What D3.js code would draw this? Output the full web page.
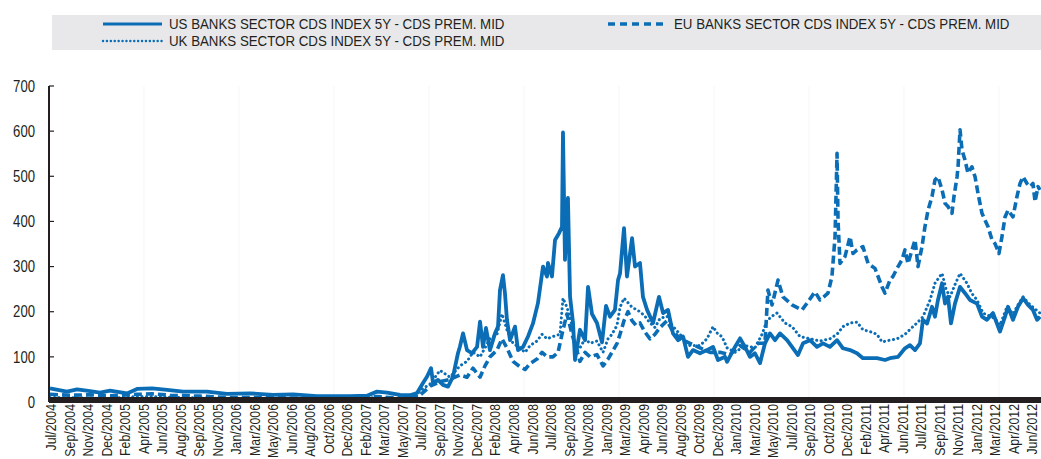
<!DOCTYPE html>
<html><head><meta charset="utf-8">
<script src="https://cdn.jsdelivr.net/npm/d3@7/dist/d3.min.js"></script>
<style>
body{margin:0;background:#fff;}
svg{display:block;}
text{font-family:"Liberation Sans",Arial,sans-serif;fill:#231f20;}
</style></head><body>
<svg id="c" width="1041" height="459"></svg>
<script>
const seriesNames = [
  "US BANKS SECTOR CDS INDEX 5Y - CDS PREM. MID",
  "EU BANKS SECTOR CDS INDEX 5Y - CDS PREM. MID",
  "UK BANKS SECTOR CDS INDEX 5Y - CDS PREM. MID"
];
const tickLabels = ["Jul/2004","Sep/2004","Nov/2004","Dec/2004","Feb/2005","Apr/2005","Jun/2005","Aug/2005","Sep/2005","Nov/2005","Jan/2006","Mar/2006","May/2006","Jun/2006","Aug/2006","Oct/2006","Dec/2006","Feb/2007","Mar/2007","May/2007","Jul/2007","Sep/2007","Nov/2007","Dec/2007","Feb/2008","Apr/2008","Jun/2008","Jul/2008","Sep/2008","Nov/2008","Jan/2009","Mar/2009","Apr/2009","Jun/2009","Aug/2009","Oct/2009","Dec/2009","Jan/2010","Mar/2010","May/2010","Jul/2010","Sep/2010","Oct/2010","Dec/2010","Feb/2011","Apr/2011","Jun/2011","Jul/2011","Sep/2011","Nov/2011","Jan/2012","Mar/2012","Apr/2012","Jun/2012"];
const yTicks = [0,100,200,300,400,500,600,700];
const gridYears = [2005.258,2006.024,2006.790,2007.556,2008.323,2009.089,2009.855,2010.621,2011.387,2012.153];

// [decimal year, basis points]
const usData = [[2004.500,30],[2004.637,23],[2004.718,28],[2004.823,24],[2004.903,21],[2004.984,25],[2005.121,19],[2005.202,29],[2005.323,30],[2005.444,27],[2005.573,23],[2005.766,23],[2005.927,18],[2006.113,19],[2006.298,16],[2006.460,17],[2006.653,13],[2006.919,13],[2007.056,14],[2007.137,23],[2007.218,21],[2007.323,16],[2007.403,15],[2007.460,20],[2007.508,42],[2007.540,56],[2007.573,75],[2007.589,42],[2007.629,49],[2007.669,38],[2007.710,34],[2007.750,56],[2007.790,108],[2007.806,123],[2007.831,152],[2007.863,115],[2007.903,108],[2007.944,122],[2007.968,178],[2007.992,122],[2008.016,164],[2008.048,115],[2008.089,152],[2008.113,167],[2008.129,248],[2008.153,281],[2008.169,241],[2008.185,182],[2008.210,137],[2008.250,167],[2008.274,115],[2008.315,122],[2008.355,145],[2008.395,174],[2008.435,219],[2008.476,300],[2008.508,278],[2008.516,308],[2008.548,278],[2008.573,359],[2008.605,374],[2008.629,388],[2008.637,597],[2008.653,315],[2008.677,452],[2008.694,233],[2008.718,175],[2008.734,93],[2008.774,160],[2008.815,137],[2008.839,255],[2008.871,195],[2008.911,175],[2008.952,132],[2008.984,213],[2009.016,189],[2009.056,204],[2009.081,270],[2009.097,285],[2009.129,385],[2009.153,278],[2009.194,363],[2009.218,300],[2009.258,308],[2009.282,233],[2009.315,204],[2009.363,175],[2009.411,233],[2009.444,197],[2009.484,204],[2009.524,152],[2009.565,137],[2009.605,145],[2009.645,100],[2009.685,115],[2009.742,108],[2009.798,115],[2009.847,122],[2009.887,93],[2009.944,100],[2009.960,89],[2010.024,122],[2010.065,141],[2010.105,122],[2010.145,100],[2010.185,108],[2010.226,86],[2010.266,130],[2010.306,152],[2010.347,137],[2010.387,152],[2010.444,137],[2010.484,122],[2010.532,104],[2010.573,130],[2010.629,137],[2010.685,122],[2010.734,130],[2010.790,122],[2010.847,137],[2010.895,119],[2010.952,115],[2011.008,108],[2011.056,97],[2011.113,97],[2011.169,97],[2011.234,93],[2011.274,97],[2011.339,100],[2011.395,119],[2011.435,126],[2011.476,115],[2011.516,130],[2011.540,182],[2011.573,174],[2011.613,211],[2011.637,189],[2011.661,226],[2011.694,263],[2011.718,218],[2011.742,233],[2011.766,174],[2011.798,218],[2011.839,255],[2011.879,241],[2011.919,226],[2011.976,218],[2012.016,189],[2012.056,182],[2012.105,197],[2012.161,156],[2012.202,189],[2012.226,211],[2012.266,182],[2012.306,211],[2012.347,230],[2012.387,215],[2012.427,204],[2012.460,182],[2012.484,189]];

const euData = [[2004.500,17],[2004.661,15],[2004.823,16],[2004.984,14],[2005.202,17],[2005.323,18],[2005.468,15],[2005.710,13],[2005.952,10],[2006.194,10],[2006.435,9],[2006.677,7],[2006.919,7],[2007.137,12],[2007.242,10],[2007.403,8],[2007.484,15],[2007.565,35],[2007.645,45],[2007.726,50],[2007.806,60],[2007.863,55],[2007.911,75],[2007.968,55],[2008.008,80],[2008.048,100],[2008.105,115],[2008.145,140],[2008.185,120],[2008.234,90],[2008.290,78],[2008.331,72],[2008.371,85],[2008.427,95],[2008.468,110],[2008.508,100],[2008.556,100],[2008.597,110],[2008.637,160],[2008.669,195],[2008.710,150],[2008.742,120],[2008.774,90],[2008.815,110],[2008.855,100],[2008.911,105],[2008.960,80],[2009.000,95],[2009.032,110],[2009.073,130],[2009.097,150],[2009.129,180],[2009.161,200],[2009.194,180],[2009.226,170],[2009.258,175],[2009.298,155],[2009.339,140],[2009.379,150],[2009.419,165],[2009.476,180],[2009.516,160],[2009.581,140],[2009.661,130],[2009.742,120],[2009.823,110],[2009.903,110],[2009.984,105],[2010.065,125],[2010.145,110],[2010.210,130],[2010.266,130],[2010.290,248],[2010.323,215],[2010.371,270],[2010.411,233],[2010.484,215],[2010.565,204],[2010.613,222],[2010.669,244],[2010.710,226],[2010.774,241],[2010.806,278],[2010.831,366],[2010.847,551],[2010.855,403],[2010.871,307],[2010.911,322],[2010.952,366],[2010.976,329],[2011.008,337],[2011.056,344],[2011.097,307],[2011.153,296],[2011.210,255],[2011.234,241],[2011.274,270],[2011.298,278],[2011.339,300],[2011.371,315],[2011.395,337],[2011.419,307],[2011.452,337],[2011.476,359],[2011.500,300],[2011.532,344],[2011.556,388],[2011.581,425],[2011.613,455],[2011.637,492],[2011.661,499],[2011.694,470],[2011.718,440],[2011.742,433],[2011.774,418],[2011.790,455],[2011.815,499],[2011.823,521],[2011.839,603],[2011.855,558],[2011.879,536],[2011.903,507],[2011.935,521],[2011.960,499],[2011.984,462],[2012.016,418],[2012.040,403],[2012.065,388],[2012.097,359],[2012.121,351],[2012.153,329],[2012.177,366],[2012.202,410],[2012.226,425],[2012.266,410],[2012.298,455],[2012.323,484],[2012.347,499],[2012.379,484],[2012.403,477],[2012.427,484],[2012.444,444],[2012.468,477],[2012.484,470]];

const ukData = [[2004.500,10],[2004.742,9],[2004.984,8],[2005.202,12],[2005.323,12],[2005.548,10],[2005.871,8],[2006.194,7],[2006.516,6],[2006.839,6],[2007.137,10],[2007.323,7],[2007.444,8],[2007.484,25],[2007.565,40],[2007.645,70],[2007.726,55],[2007.806,80],[2007.863,90],[2007.911,110],[2007.968,100],[2008.008,120],[2008.048,140],[2008.105,150],[2008.145,195],[2008.185,160],[2008.234,130],[2008.290,120],[2008.331,110],[2008.371,125],[2008.427,135],[2008.468,150],[2008.508,140],[2008.556,145],[2008.613,150],[2008.637,230],[2008.669,210],[2008.710,170],[2008.742,110],[2008.774,120],[2008.815,140],[2008.855,130],[2008.911,135],[2008.960,110],[2009.000,140],[2009.032,150],[2009.073,170],[2009.097,210],[2009.129,230],[2009.161,220],[2009.194,210],[2009.226,205],[2009.258,200],[2009.298,190],[2009.339,175],[2009.379,165],[2009.419,185],[2009.476,190],[2009.516,170],[2009.581,150],[2009.661,125],[2009.742,125],[2009.798,140],[2009.847,167],[2009.887,150],[2009.919,145],[2009.960,120],[2010.024,110],[2010.105,125],[2010.185,120],[2010.242,150],[2010.282,180],[2010.323,190],[2010.363,197],[2010.427,175],[2010.484,167],[2010.548,145],[2010.629,140],[2010.710,135],[2010.790,140],[2010.847,150],[2010.895,167],[2010.952,175],[2011.008,177],[2011.056,160],[2011.113,156],[2011.169,150],[2011.210,133],[2011.274,137],[2011.331,140],[2011.395,150],[2011.452,165],[2011.492,175],[2011.540,189],[2011.597,226],[2011.637,263],[2011.694,285],[2011.726,250],[2011.758,233],[2011.798,260],[2011.839,285],[2011.895,263],[2011.935,240],[2011.976,226],[2012.024,197],[2012.081,190],[2012.121,185],[2012.161,170],[2012.218,211],[2012.266,195],[2012.306,215],[2012.347,233],[2012.387,220],[2012.427,210],[2012.484,197]];

const BLUE = "#0a6db5", INK = "#231f20", NARROW = 0.82;
const svg = d3.select("#c");
const x = d3.scaleLinear().domain([2004.5, 2012.5]).range([50, 1042]);
const y = d3.scaleLinear().domain([0, 700]).range([402, 86]);
const xl = d3.scalePoint().domain(tickLabels).range([51, 1032]);

// legend
const lg = svg.append("g");
lg.append("rect").attr("x",52).attr("y",15).attr("width",989).attr("height",35).attr("fill","#e8e8ea");
const legendItems = [
  {name:seriesNames[0], lx:103, ly:24, dash:null, w:3, cap:"butt"},
  {name:seriesNames[1], lx:608, ly:24, dash:"7,5", w:3.5, cap:"butt"},
  {name:seriesNames[2], lx:103, ly:41, dash:"0.1,3.8", w:2.4, cap:"round"}
];
legendItems.forEach(d=>{
  lg.append("line").attr("x1",d.lx).attr("x2",d.lx+59).attr("y1",d.ly).attr("y2",d.ly)
    .attr("stroke",BLUE).attr("stroke-width",d.w).attr("stroke-dasharray",d.dash)
    .attr("stroke-linecap", d.cap);
  const t = lg.append("text").attr("dy","0.36em").attr("font-size",15).text(d.name);
  const w = t.node().getComputedTextLength();
  t.attr("transform",`translate(${d.lx+66},${d.ly}) scale(${336/w},1)`);
});

// grid
svg.append("g").selectAll("line").data(gridYears).join("line")
  .attr("x1",d=>x(d)).attr("x2",d=>x(d)).attr("y1",y(700)).attr("y2",y(0))
  .attr("stroke","#f6f6f6").attr("stroke-width",1);

// lines
const line = d3.line().x(d=>x(d[0])).y(d=>y(d[1]));
const plot = svg.append("g");
plot.append("path").datum(usData).attr("d",line).attr("fill","none").attr("stroke",BLUE)
  .attr("stroke-width",3.8).attr("stroke-linejoin","round");
plot.append("path").datum(euData).attr("d",line).attr("fill","none").attr("stroke",BLUE)
  .attr("stroke-width",3.6).attr("stroke-dasharray","8,4").attr("stroke-linejoin","round");
plot.append("path").datum(ukData).attr("d",line).attr("fill","none").attr("stroke",BLUE)
  .attr("stroke-width",3).attr("stroke-dasharray","0.1,4.5").attr("stroke-linecap","round");

// x axis band
svg.append("rect").attr("x",x(2004.5)-1).attr("y",y(0)-5).attr("width",1041-x(2004.5)+1).attr("height",6).attr("fill",INK);

// y axis
const ya = svg.append("g");
ya.append("line").attr("x1",49).attr("x2",49).attr("y1",y(700)).attr("y2",y(0)).attr("stroke",INK).attr("stroke-width",2);
ya.selectAll(".t").data(yTicks).join("line").attr("class","t")
  .attr("x1",49).attr("x2",54).attr("y1",d=>y(d)).attr("y2",d=>y(d)).attr("stroke",INK).attr("stroke-width",1.2);
ya.selectAll("text").data(yTicks).join("text")
  .attr("transform",d=>`translate(35,${y(d)}) scale(${NARROW},1)`)
  .attr("dy","0.36em").attr("text-anchor","end")
  .attr("font-size",16).attr("fill","#333").text(d=>d);

// x labels
svg.append("g").selectAll("text").data(tickLabels).join("text")
  .attr("transform",d=>`translate(${xl(d)},404) rotate(-90) scale(${NARROW},1)`)
  .attr("dy","0.35em").attr("text-anchor","end").attr("font-size",15).attr("fill","#333").text(d=>d);
</script>
</body></html>
